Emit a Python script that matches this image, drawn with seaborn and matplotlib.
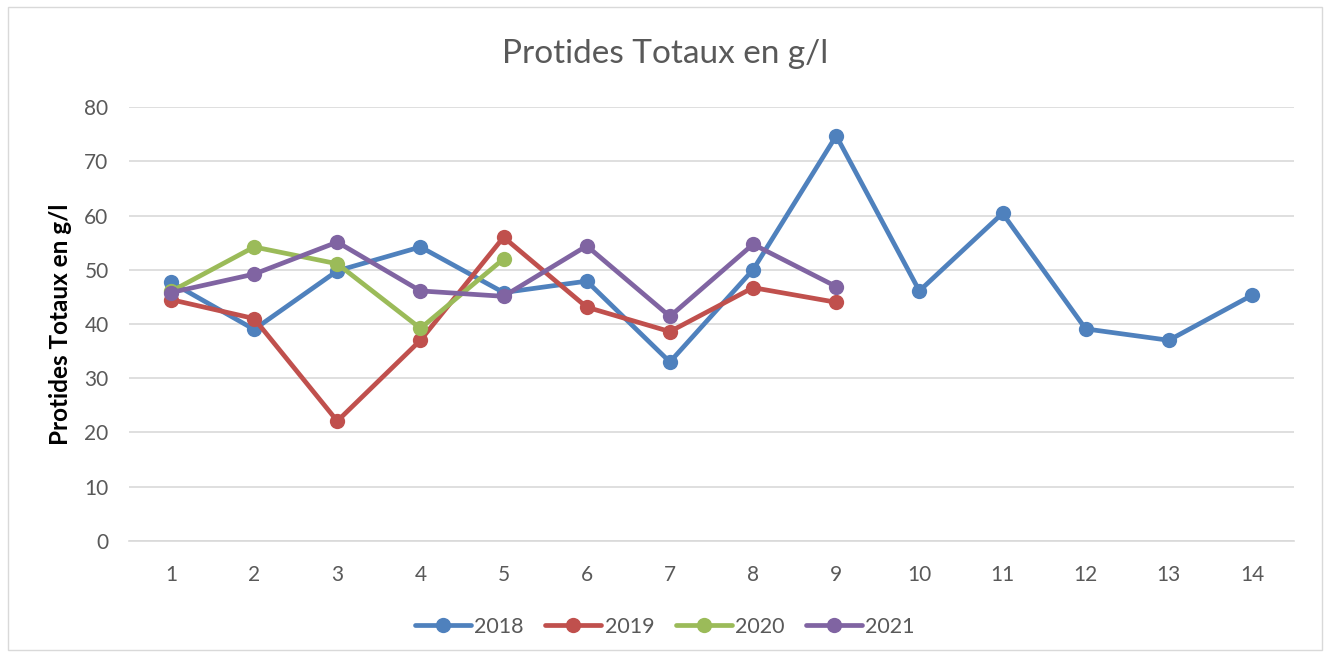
import matplotlib
matplotlib.use("Agg")
import matplotlib.pyplot as plt
from matplotlib.patches import FancyBboxPatch
import seaborn as sns
import pandas as pd
import numpy as np

# Data
categories = list(range(1, 15))
v2018 = [47.7, 39.0, 49.8, 54.2, 45.8, 47.9, 33.0, 50.0, 74.7, 46.1, 60.4, 39.1, 37.0, 45.3]
v2019 = [44.5, 41.0, 22.1, 37.0, 56.0, 43.1, 38.6, 46.7, 44.0]
v2020 = [46.0, 54.2, 51.1, 39.2, 52.0]
v2021 = [45.8, 49.2, 55.1, 46.1, 45.1, 54.4, 41.4, 54.7, 46.9]
years = ["2018", "2019", "2020", "2021"]
series = [v2018, v2019, v2020, v2021]
colors = ["#4F81BD", "#C0504D", "#9BBB59", "#8064A2"]

rows = []
for yr, vals in zip(years, series):
    for c, v in zip(categories, vals):
        rows.append({"x": c, "y": v, "year": yr})
df = pd.DataFrame(rows)

sns.set_theme(style="white")
plt.rcParams['font.family'] = ['Lato', 'DejaVu Sans']

fig = plt.figure(figsize=(13.3, 6.57), dpi=100)
ax = fig.add_axes([0.0973, 0.1766, 0.8753, 0.6605])

# Border around figure
fig.patches.append(FancyBboxPatch((0.006, 0.01), 0.988, 0.98,
                                  boxstyle="square,pad=0", transform=fig.transFigure,
                                  facecolor="none", edgecolor="#D9D9D9", linewidth=1.0))

sns.lineplot(data=df, x="x", y="y", hue="year", palette=colors, hue_order=years,
             marker="o", markersize=11, linewidth=3.4, markeredgewidth=0,
             ax=ax, legend=True, sort=False)

ax.set_xlim(0.5, 14.5)
ax.set_ylim(0, 80)
ax.set_yticks(np.arange(0, 81, 10))
ax.set_xticks(categories)
ax.yaxis.grid(True, color="#D9D9D9", linewidth=1.2)
ax.set_axisbelow(True)
for s in ["top", "right", "left"]:
    ax.spines[s].set_visible(False)
ax.spines["bottom"].set_color("#D9D9D9")
ax.spines["bottom"].set_linewidth(1.2)
ax.tick_params(axis="both", length=0, labelsize=15, colors="#595959")
ax.tick_params(axis="x", pad=17)
ax.tick_params(axis="y", pad=15)
ax.set_xlabel("")
ax.set_ylabel("Protides Totaux en g/l", fontsize=17.5, fontweight="bold", color="black", labelpad=9)

fig.suptitle("Protides Totaux en g/l", fontsize=24, color="#595959", y=0.94)

handles, labels = ax.get_legend_handles_labels()
ax.get_legend().remove()
fig.legend(handles, labels, loc="center", bbox_to_anchor=(0.5, 0.046), ncol=4,
           frameon=False, fontsize=15.5, handlelength=2.6, columnspacing=1.0,
           handletextpad=0.15, labelcolor="#595959")

fig.savefig("out.png", dpi=100)
